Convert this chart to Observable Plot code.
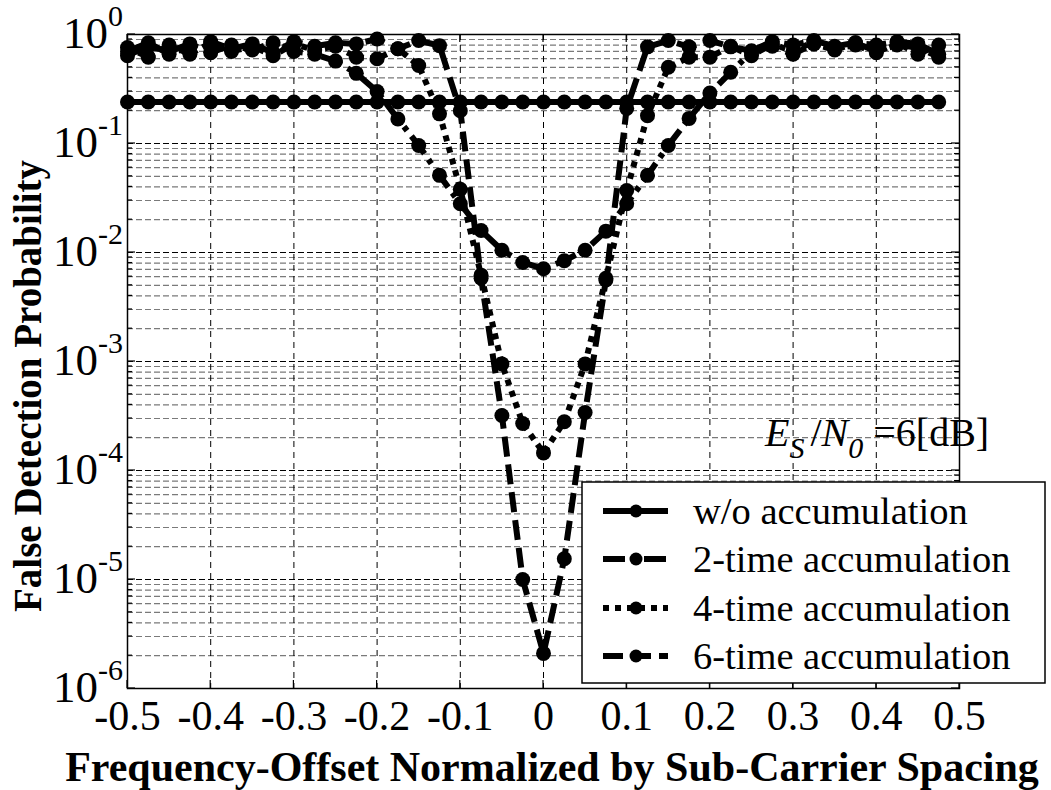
<!DOCTYPE html>
<html>
<head>
<meta charset="utf-8">
<script src="https://cdn.jsdelivr.net/npm/d3@7"></script>
<script src="https://cdn.jsdelivr.net/npm/@observablehq/plot@0.6"></script>
<style>
  body { margin: 0; background: #fff; }
  svg { display: block; }
</style>
</head>
<body>
<div id="chart"></div>
<script>
// Normalized frequency offsets (one simulation point every 0.025)
const offsets = [-0.5, -0.475, -0.45, -0.425, -0.4, -0.375, -0.35, -0.325, -0.3, -0.275,
  -0.25, -0.225, -0.2, -0.175, -0.15, -0.125, -0.1, -0.075, -0.05, -0.025,
  0, 0.025, 0.05, 0.075, 0.1, 0.125, 0.15, 0.175, 0.2, 0.225,
  0.25, 0.275, 0.3, 0.325, 0.35, 0.375, 0.4, 0.425, 0.45, 0.475];

// False detection probability for each accumulation setting
const noAccum = [0.24, 0.24, 0.24, 0.24, 0.24, 0.24, 0.24, 0.24, 0.24, 0.24,
  0.24, 0.24, 0.24, 0.24, 0.24, 0.24, 0.24, 0.24, 0.24, 0.24,
  0.24, 0.24, 0.24, 0.24, 0.24, 0.24, 0.24, 0.24, 0.24, 0.24,
  0.24, 0.24, 0.24, 0.24, 0.24, 0.24, 0.24, 0.24, 0.24, 0.24];
const accum2 = [0.64, 0.78, 0.70, 0.82, 0.68, 0.80, 0.72, 0.84, 0.70, 0.66,
  0.57, 0.44, 0.30, 0.168, 0.096, 0.051, 0.028, 0.0159, 0.0105, 0.0081,
  0.0071, 0.0084, 0.0105, 0.0157, 0.028, 0.051, 0.096, 0.17, 0.29, 0.45,
  0.69, 0.78, 0.66, 0.82, 0.72, 0.84, 0.70, 0.80, 0.76, 0.62];
const accum4 = [0.76, 0.62, 0.80, 0.66, 0.84, 0.70, 0.78, 0.64, 0.82, 0.72,
  0.78, 0.62, 0.60, 0.74, 0.52, 0.187, 0.038, 0.0062, 0.00095, 0.00027,
  0.000145, 0.00028, 0.00095, 0.0058, 0.037, 0.18, 0.50, 0.62, 0.62, 0.78,
  0.64, 0.82, 0.70, 0.86, 0.74, 0.80, 0.68, 0.84, 0.66, 0.80];
const accum6 = [0.70, 0.84, 0.66, 0.78, 0.86, 0.74, 0.82, 0.68, 0.86, 0.78,
  0.84, 0.82, 0.91, 0.74, 0.88, 0.79, 0.20, 0.0058, 0.00032, 0.00001,
  0.0000021, 0.0000155, 0.00034, 0.0056, 0.21, 0.77, 0.88, 0.77, 0.88, 0.77,
  0.71, 0.86, 0.80, 0.88, 0.78, 0.84, 0.80, 0.86, 0.82, 0.66];

const seriesNames = ["w/o accumulation", "2-time accumulation", "4-time accumulation", "6-time accumulation"];
const seriesValues = [noAccum, accum2, accum4, accum6];
const seriesDash = [null, "22,7,5,7", "6,6", "20,8"];

const xTicks = [-0.5, -0.4, -0.3, -0.2, -0.1, 0, 0.1, 0.2, 0.3, 0.4, 0.5];
const decadeExponents = [0, -1, -2, -3, -4, -5, -6];
const decades = decadeExponents.map(e => Math.pow(10, e));
const minorSteps = [2, 3, 4, 5, 6, 7, 8, 9];
const minorTicks = decades.slice(1).flatMap(d => minorSteps.map(m => d * m));

const serif = "'Liberation Serif', 'Times New Roman', serif";
const W = 1051, H = 790;
const M = {top: 34, right: 92, bottom: 102, left: 127};
const LINE_W = 6, DOT_R = 7.5;

// Long-format rows for the line and dot marks
const rows = seriesNames.flatMap((name, s) =>
  offsets.map((x, i) => ({x, p: seriesValues[s][i], series: name, s})));

const seriesMarks = seriesNames.flatMap((name, s) => {
  const data = rows.filter(d => d.s === s);
  return [
    Plot.line(data, {x: "x", y: "p", stroke: "#000", strokeWidth: LINE_W,
      strokeDasharray: seriesDash[s] ?? undefined, strokeLinecap: "butt", strokeLinejoin: "round"}),
    Plot.dot(data, {x: "x", y: "p", r: DOT_R, fill: "#000", stroke: "none"})
  ];
});

const chart = Plot.plot({
  width: W,
  height: H,
  marginTop: M.top, marginRight: M.right, marginBottom: M.bottom, marginLeft: M.left,
  style: {fontFamily: serif, background: "#fff", overflow: "visible"},
  x: {domain: [-0.5, 0.5]},
  y: {type: "log", domain: [1e-6, 1]},
  marks: [
    Plot.ruleY(minorTicks, {stroke: "#7a7a7a", strokeWidth: 1.2, strokeDasharray: "6,3"}),
    Plot.ruleY(decades, {stroke: "#000", strokeWidth: 1, strokeDasharray: "6,3"}),
    Plot.ruleX(xTicks, {stroke: "#000", strokeWidth: 1, strokeDasharray: "6,5"}),
    ...seriesMarks,
    Plot.frame({stroke: "#000", strokeWidth: 1.5}),
    Plot.axisX(xTicks, {tickSize: 0, tickPadding: 12, fontSize: 42, fontFamily: serif,
      tickFormat: d => String(d), label: null}),
    Plot.axisY({ticks: [], label: null, tickSize: 0})
  ]
});

document.getElementById("chart").append(chart);

const svg = d3.select(chart);
const xs = chart.scale("x"), ys = chart.scale("y");
const x0 = M.left, x1 = W - M.right, y0 = M.top, y1 = H - M.bottom;

// Inward frame ticks on all four sides
const tg = svg.append("g").attr("stroke", "#000").attr("stroke-width", 1.2);
xTicks.forEach(v => {
  const px = xs.apply(v);
  tg.append("line").attr("x1", px).attr("x2", px).attr("y1", y1).attr("y2", y1 - 8);
  tg.append("line").attr("x1", px).attr("x2", px).attr("y1", y0).attr("y2", y0 + 8);
});
decades.concat(minorTicks).forEach((v, i) => {
  const py = ys.apply(v), len = i < decades.length ? 8 : 5;
  tg.append("line").attr("x1", x0).attr("x2", x0 + len).attr("y1", py).attr("y2", py);
  tg.append("line").attr("x1", x1).attr("x2", x1 - len).attr("y1", py).attr("y2", py);
});

// Power-of-ten tick labels with superscript exponents
const yl = svg.append("g").attr("font-family", serif).attr("fill", "#000");
decadeExponents.forEach((e, i) => {
  const t = yl.append("text")
    .attr("x", x0 - 4).attr("y", ys.apply(decades[i]) + 14)
    .attr("text-anchor", "end").attr("font-size", 45);
  t.append("tspan").text("10");
  t.append("tspan").attr("font-size", 30).attr("dy", -22).text(String(e));
});

// Axis titles
svg.append("text")
  .attr("transform", "translate(41,612) rotate(-90)")
  .attr("text-anchor", "start").attr("font-family", serif)
  .attr("font-weight", "bold").attr("font-size", 39).text("False Detection Probability");
svg.append("text")
  .attr("x", 552).attr("y", 781)
  .attr("text-anchor", "middle").attr("font-family", serif)
  .attr("font-weight", "bold").attr("font-size", 42).text("Frequency-Offset Normalized by Sub-Carrier Spacing");

// Operating point annotation: Es/N0 = 6 dB
const ann = svg.append("text").attr("x", 765).attr("y", 446)
  .attr("text-anchor", "start")
  .attr("font-family", serif).attr("font-size", 40).attr("fill", "#000");
ann.append("tspan").attr("font-style", "italic").text("E");
ann.append("tspan").attr("font-style", "italic").attr("font-size", 30).attr("dy", 12).text("S");
ann.append("tspan").attr("dy", -12).attr("dx", 6).text("/");
ann.append("tspan").attr("font-style", "italic").text("N");
ann.append("tspan").attr("font-style", "italic").attr("font-size", 30).attr("dy", 12).text("0");
ann.append("tspan").attr("dy", -12).attr("dx", 10).text("=6[dB]");

// Legend box
const lg = svg.append("g").attr("font-family", serif).attr("text-anchor", "start");
lg.append("rect").attr("x", 582).attr("y", 482).attr("width", 463).attr("height", 201)
  .attr("fill", "#fff").attr("stroke", "#000").attr("stroke-width", 1.5);
const rowY = [511, 559, 608, 656];
seriesNames.forEach((name, s) => {
  const yy = rowY[s];
  lg.append("line").attr("x1", 603).attr("x2", 668).attr("y1", yy).attr("y2", yy)
    .attr("stroke", "#000").attr("stroke-width", LINE_W)
    .attr("stroke-dasharray", seriesDash[s]);
  lg.append("circle").attr("cx", 636).attr("cy", yy).attr("r", 6.5).attr("fill", "#000");
  lg.append("text").attr("x", 693).attr("y", yy + 13).attr("font-size", 38.5)
    .attr("text-anchor", "start").attr("fill", "#000").text(name);
});
</script>
</body>
</html>
